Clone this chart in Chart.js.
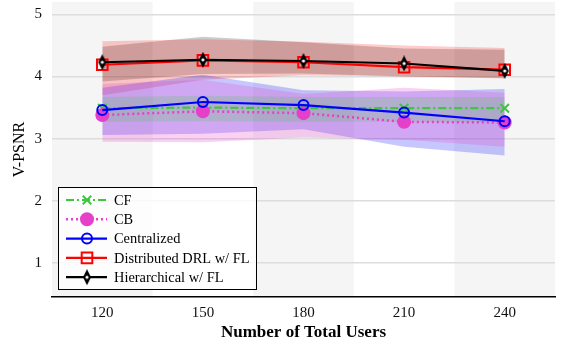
<!DOCTYPE html>
<html>
<head>
<meta charset="utf-8">
<script src="https://cdn.jsdelivr.net/npm/chart.js@4"></script>
<style>
  html, body { margin: 0; padding: 0; background: #fff; }
  #wrap { width: 563px; height: 344px; }
</style>
</head>
<body>
<div id="wrap"><canvas id="psnrChart" width="563" height="344"></canvas></div>
<script>
const categories = ["120", "150", "180", "210", "240"];
const yTicks = [1, 2, 3, 4, 5];

const cfMean = [3.49, 3.50, 3.49, 3.49, 3.49];
const cfLow = [3.27, 3.28, 3.27, 3.27, 3.26];
const cfHigh = [3.67, 3.69, 3.67, 3.67, 3.67];

const cbMean = [3.38, 3.44, 3.41, 3.27, 3.26];
const cbLow = [2.95, 2.94, 3.02, 2.98, 2.87];
const cbHigh = [3.88, 3.95, 3.72, 3.82, 3.74];

const cenMean = [3.46, 3.59, 3.54, 3.42, 3.28];
const cenLow = [3.06, 3.08, 3.15, 2.87, 2.73];
const cenHigh = [3.82, 4.03, 3.78, 3.76, 3.80];

const disMean = [4.19, 4.26, 4.23, 4.15, 4.11];
const disLow = [3.70, 3.95, 4.02, 4.00, 3.97];
const disHigh = [4.57, 4.60, 4.56, 4.50, 4.46];

const hieMean = [4.23, 4.27, 4.25, 4.21, 4.09];
const hieLow = [3.92, 4.04, 4.05, 4.00, 3.98];
const hieHigh = [4.48, 4.64, 4.55, 4.45, 4.43];

const serif = "'Liberation Serif', 'Times New Roman', serif";

// thin diamond marker for the hierarchical curve
function makeDiamond() {
  const c = document.createElement("canvas");
  c.width = 10; c.height = 16;
  const g = c.getContext("2d");
  g.beginPath();
  g.moveTo(5, 0); g.lineTo(9, 8); g.lineTo(5, 16); g.lineTo(1, 8); g.closePath();
  g.fillStyle = "#000"; g.fill();
  g.beginPath();
  g.arc(5, 8, 1.6, 0, Math.PI * 2);
  g.fillStyle = "#fff"; g.fill();
  return c;
}
const diamond = makeDiamond();

const series = [
  { label: "CF", mean: cfMean, low: cfLow, high: cfHigh, color: "#3cc83c", band: "rgba(60,200,60,0.2)",
    dash: [8, 3, 2, 3], style: "crossRot", radius: 6, fill: "#3cc83c", width: 2.2 },
  { label: "CB", mean: cbMean, low: cbLow, high: cbHigh, color: "#e63fca", band: "rgba(230,63,202,0.24)",
    dash: [2, 3], style: "circle", radius: 6, fill: "#e63fca", width: 2.5 },
  { label: "Centralized", mean: cenMean, low: cenLow, high: cenHigh, color: "#0000ff", band: "rgba(0,0,255,0.22)",
    dash: [], style: "circle", radius: 5, fill: "rgba(0,0,0,0)", width: 2.2 },
  { label: "Distributed DRL w/ FL", mean: disMean, low: disLow, high: disHigh, color: "#ff0000", band: "rgba(255,0,0,0.2)",
    dash: [], style: "rect", radius: 7.5, fill: "rgba(0,0,0,0)", width: 2.2 },
  { label: "Hierarchical w/ FL", mean: hieMean, low: hieLow, high: hieHigh, color: "#000000", band: "rgba(0,0,0,0.2)",
    dash: [], style: diamond, radius: 6, fill: "#000", width: 2.2 }
];

const datasets = [];
series.forEach((s, i) => {
  const lowIdx = datasets.length;
  datasets.push({
    data: s.low, borderWidth: 0, borderColor: "rgba(0,0,0,0)", pointRadius: 0,
    fill: false, order: 20
  });
  datasets.push({
    data: s.high, borderWidth: 0, borderColor: "rgba(0,0,0,0)", pointRadius: 0,
    backgroundColor: s.band, fill: { target: lowIdx }, order: 20
  });
  datasets.push({
    label: s.label, data: s.mean, borderColor: s.color, borderWidth: s.width,
    borderDash: s.dash, pointStyle: s.style, pointRadius: s.radius,
    pointBorderColor: s.color, pointBackgroundColor: s.fill, pointBorderWidth: 2,
    fill: false, tension: 0, order: 10 - i
  });
});

const bandsPlugin = {
  id: "bands",
  beforeDraw(chart) {
    const { ctx, chartArea, scales } = chart;
    const w = (chartArea.right - chartArea.left) / categories.length;
    ctx.save();
    ctx.fillStyle = "#f5f5f5";
    categories.forEach((c, i) => {
      if (i % 2 === 0) {
        const x = scales.x.getPixelForValue(i) - w / 2;
        ctx.fillRect(x, chartArea.top, w, chartArea.bottom - chartArea.top);
      }
    });
    ctx.restore();
  }
};

const legendPlugin = {
  id: "boxLegend",
  afterDraw(chart) {
    const ctx = chart.ctx;
    const ca = chart.chartArea;
    const bx = ca.left + 6, by = 187, bw = 198, bh = 102;
    ctx.save();
    ctx.fillStyle = "rgba(255,255,255,0.8)";
    ctx.fillRect(bx, by, bw, bh);
    ctx.strokeStyle = "#000";
    ctx.lineWidth = 1;
    ctx.strokeRect(bx + 0.5, by + 0.5, bw, bh);
    ctx.font = "14.4px " + serif;
    ctx.textBaseline = "middle";
    series.forEach((s, i) => {
      const y = by + 13 + i * 19.3;
      ctx.setLineDash(s.dash);
      ctx.strokeStyle = s.color;
      ctx.lineWidth = s.width;
      ctx.beginPath();
      ctx.moveTo(bx + 8, y);
      ctx.lineTo(bx + 49, y);
      ctx.stroke();
      ctx.setLineDash([]);
      ctx.fillStyle = s.fill;
      ctx.lineWidth = 2;
      Chart.helpers.drawPoint(ctx, { pointStyle: s.style, radius: s.radius, rotation: 0, borderWidth: 2 }, bx + 29, y);
      ctx.fillStyle = "#000";
      ctx.fillText(s.label, bx + 56, y + 1);
    });
    ctx.restore();
  }
};

new Chart(document.getElementById("psnrChart").getContext("2d"), {
  type: "line",
  data: { labels: categories, datasets: datasets },
  plugins: [bandsPlugin, legendPlugin],
  options: {
    responsive: false,
    animation: false,
    maintainAspectRatio: false,
    layout: { autoPadding: false, padding: { top: 2, right: 8, left: 0, bottom: 0 } },
    scales: {
      x: {
        offset: true,
        grid: { display: false, drawTicks: false },
        border: { display: true, color: "#000", width: 1.5 },
        ticks: { color: "#111", padding: 7, font: { family: serif, size: 15 } },
        title: { display: true, text: "Number of Total Users", color: "#000",
                 font: { family: serif, size: 17, weight: "bold" }, padding: { top: 0, bottom: 1 } },
        afterFit(scale) { scale.height = 47; scale.paddingLeft = 0; scale.paddingRight = 0; }
      },
      y: {
        min: 0.45,
        max: 5.2,
        afterBuildTicks(scale) { scale.ticks = yTicks.map(v => ({ value: v })); },
        grid: { color: "#dddddd", lineWidth: 1.5, drawTicks: false },
        border: { display: false },
        ticks: { color: "#111", padding: 10, font: { family: serif, size: 15 } },
        title: { display: true, text: "V-PSNR", color: "#000",
                 font: { family: serif, size: 16 }, padding: { top: 10, bottom: 0 } },
        afterFit(scale) { scale.width = 52; scale.paddingTop = 0; scale.paddingBottom = 0; }
      }
    },
    plugins: {
      legend: { display: false },
      tooltip: { enabled: false },
      filler: { drawTime: "beforeDatasetsDraw" }
    }
  }
});
</script>
</body>
</html>
